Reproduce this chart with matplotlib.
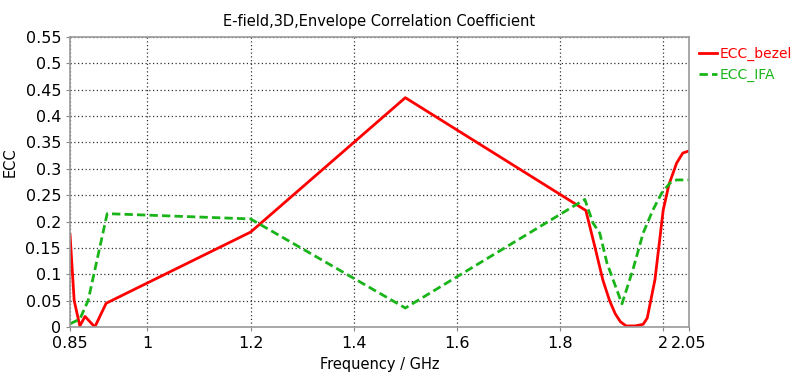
import numpy as np
import matplotlib.pyplot as plt

# ECC_bezel
f_bezel = [0.85, 0.858, 0.869, 0.879, 0.898, 0.92, 1.2, 1.5, 1.850, 1.868, 1.883, 1.896,
           1.907, 1.917, 1.928, 1.945, 1.961, 1.969, 1.984, 2.0, 2.011, 2.026, 2.038, 2.05]
ecc_bezel = [0.175, 0.05, 0.002, 0.02, 0.0, 0.045, 0.18, 0.435, 0.221, 0.15, 0.089, 0.05,
             0.025, 0.01, 0.002, 0.002, 0.005, 0.017, 0.09, 0.222, 0.27, 0.311, 0.330, 0.334]

# ECC_IFA
f_ifa = [0.85, 0.869, 0.885, 0.922, 1.2, 1.5, 1.848, 1.864, 1.877, 1.891, 1.920,
         1.941, 1.961, 1.980, 1.997, 2.013, 2.026, 2.05]
ecc_ifa = [0.006, 0.015, 0.05, 0.215, 0.205, 0.036, 0.242, 0.197, 0.178, 0.121, 0.044,
           0.108, 0.178, 0.222, 0.254, 0.273, 0.279, 0.279]

xticks = [0.85, 1, 1.2, 1.4, 1.6, 1.8, 2, 2.05]
yticks = np.arange(0, 0.5501, 0.05)

fig = plt.figure(figsize=(7.96, 3.82), dpi=100)
ax = fig.add_axes([0.088, 0.144, 0.7776, 0.759])

ax.plot(f_bezel, ecc_bezel, color='#ff0000', lw=2, label='ECC_bezel')
ax.plot(f_ifa, ecc_ifa, color='#19b419', lw=2, ls=(0, (3, 1.5)), label='ECC_IFA')

ax.set_xlim(0.85, 2.05)
ax.set_ylim(0, 0.55)
ax.set_xticks(xticks)
ax.set_xticklabels(['%g' % t for t in xticks])
ax.set_yticks(yticks)
ax.set_yticklabels(['%g' % round(t, 2) for t in yticks])
ax.tick_params(labelsize=11.5, length=3, color='#888888')
ax.grid(True, ls=(0, (1, 2)), color='#333333', lw=0.9)
for s in ax.spines.values():
    s.set_color('#999999')
    s.set_linewidth(1.2)

ax.set_title('E-field,3D,Envelope Correlation Coefficient', fontsize=10.5, pad=8)
ax.set_xlabel('Frequency / GHz', fontsize=10.5)
ax.set_ylabel('ECC', fontsize=10.5)
ax.yaxis.set_label_coords(-0.085, 0.57)

ax.legend(loc='upper left', bbox_to_anchor=(1.0, 1.0), frameon=False, fontsize=10,
          labelcolor='linecolor', handlelength=1.3, handletextpad=0.2, borderaxespad=0.3)

fig.savefig('out.png', dpi=100)
